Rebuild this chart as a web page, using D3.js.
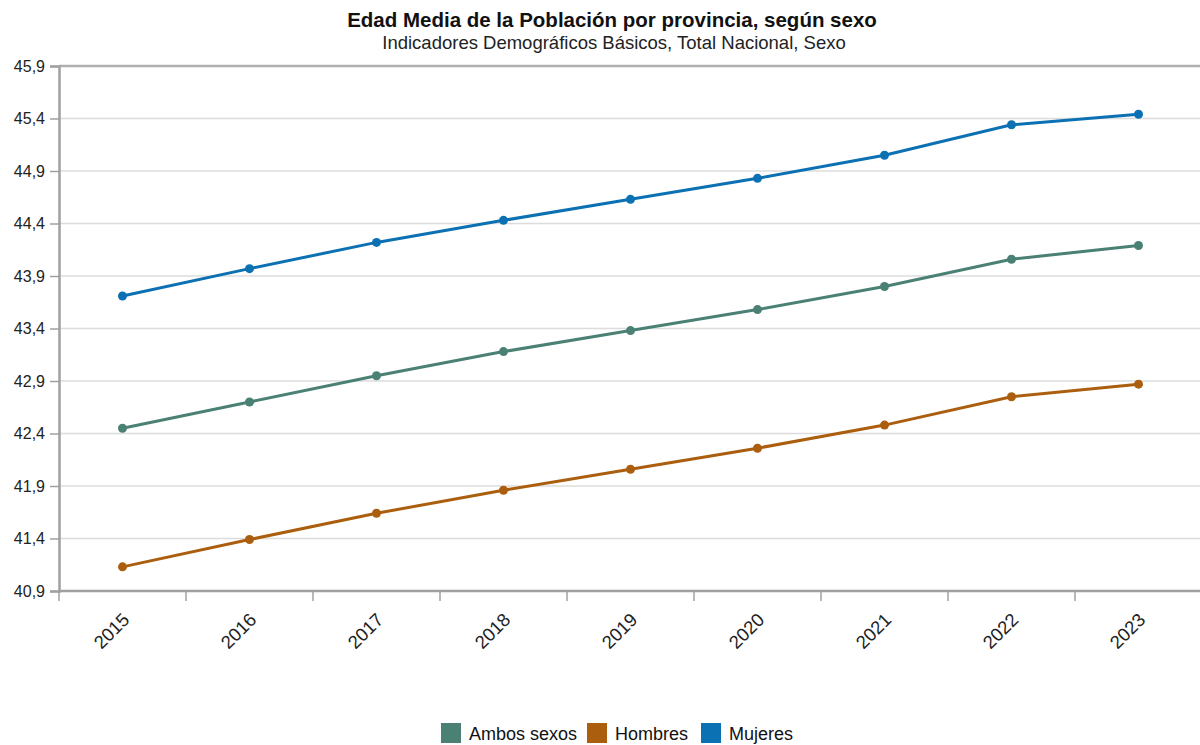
<!DOCTYPE html>
<html>
<head>
<meta charset="utf-8">
<script src="https://cdn.jsdelivr.net/npm/d3@7"></script>
<style>
  body { margin: 0; background: #fff; }
  svg { display: block; font-family: "Liberation Sans", Arial, sans-serif; }
</style>
</head>
<body>
<svg id="chart" width="1200" height="745"></svg>
<script>
// years on the x axis
var years = ["2015", "2016", "2017", "2018", "2019", "2020", "2021", "2022", "2023"];

// series values
var ambosSexos = [42.45, 42.70, 42.95, 43.18, 43.38, 43.58, 43.80, 44.06, 44.19];
var hombres = [41.13, 41.39, 41.64, 41.86, 42.06, 42.26, 42.48, 42.75, 42.87];
var mujeres = [43.71, 43.97, 44.22, 44.43, 44.63, 44.83, 45.05, 45.34, 45.44];

var seriesNames = ["Ambos sexos", "Hombres", "Mujeres"];
var seriesColors = ["#4a8174", "#ab5f0e", "#0b71b2"];

// y ticks as labelled
var yTicks = [40.9, 41.4, 41.9, 42.4, 42.9, 43.4, 43.9, 44.4, 44.9, 45.4, 45.9];

var series = [
    { name: seriesNames[0], values: ambosSexos, color: seriesColors[0] },
    { name: seriesNames[1], values: hombres, color: seriesColors[1] },
    { name: seriesNames[2], values: mujeres, color: seriesColors[2] }
];

var svg = d3.select("#chart"),
    plotLeft = 59,
    plotRight = 1202,
    plotTop = 66,
    plotBottom = 591;

var x = d3.scaleBand().domain(years).range([plotLeft, plotRight]);
var y = d3.scaleLinear().domain([40.9, 45.9]).range([plotBottom, plotTop]);

var fmt = function(d) { return d3.format(".1f")(d).replace(".", ","); };

// Title and subtitle
svg.append("text")
    .attr("x", 612).attr("y", 27)
    .attr("text-anchor", "middle")
    .style("font-size", "20.5px")
    .style("font-weight", "bold")
    .style("fill", "#111")
    .text("Edad Media de la Población por provincia, según sexo");

svg.append("text")
    .attr("x", 614).attr("y", 49)
    .attr("text-anchor", "middle")
    .style("font-size", "18.5px")
    .style("fill", "#222")
    .text("Indicadores Demográficos Básicos, Total Nacional, Sexo");

// Horizontal grid
svg.append("g")
    .selectAll("line")
    .data(yTicks)
    .enter()
    .append("line")
    .attr("x1", plotLeft).attr("x2", 1200)
    .attr("y1", function(d) { return y(d); })
    .attr("y2", function(d) { return y(d); })
    .style("stroke", function(d) { return d === 45.9 ? "#b0b0b0" : "#dcdcdc"; })
    .style("stroke-width", function(d) { return d === 45.9 ? 2.5 : 1.5; });

// Y axis
var yAxis = svg.append("g")
    .attr("transform", "translate(" + plotLeft + ",0)")
    .call(d3.axisLeft(y).tickValues(yTicks).tickFormat(fmt).tickSizeOuter(0).tickSize(9).tickPadding(5));
yAxis.select(".domain").style("stroke", "#a0a0a0").style("stroke-width", 2.5);
yAxis.selectAll(".tick line").style("stroke", "#a0a0a0").style("stroke-width", 1.5);
yAxis.selectAll(".tick text").style("font-size", "16px").style("fill", "#222")
    .style("font-family", "Liberation Sans, Arial, sans-serif");

// X axis with ticks at band boundaries
var xAxisG = svg.append("g");
xAxisG.append("line")
    .attr("x1", plotLeft).attr("x2", 1200)
    .attr("y1", plotBottom).attr("y2", plotBottom)
    .style("stroke", "#a0a0a0").style("stroke-width", 2.5);
xAxisG.selectAll(".xtick")
    .data(years)
    .enter()
    .append("line")
    .attr("class", "xtick")
    .attr("x1", function(d) { return x(d); })
    .attr("x2", function(d) { return x(d); })
    .attr("y1", plotBottom).attr("y2", plotBottom + 10)
    .style("stroke", "#a0a0a0").style("stroke-width", 1.5);
xAxisG.selectAll(".xlabel")
    .data(years)
    .enter()
    .append("text")
    .attr("class", "xlabel")
    .attr("text-anchor", "end")
    .attr("transform", function(d) {
        return "translate(" + (x(d) + x.bandwidth() / 2 + 8) + "," + (plotBottom + 30) + ") rotate(-45)";
    })
    .style("font-size", "18.5px")
    .style("fill", "#222")
    .text(function(d) { return d; });

// Lines and points
var line = d3.line()
    .x(function(d, i) { return x(years[i]) + x.bandwidth() / 2; })
    .y(function(d) { return y(d); });

var groups = svg.selectAll(".series")
    .data(series)
    .enter()
    .append("g")
    .attr("class", "series");

groups.append("path")
    .attr("d", function(d) { return line(d.values); })
    .style("fill", "none")
    .style("stroke", function(d) { return d.color; })
    .style("stroke-width", 3);

groups.each(function(s) {
    d3.select(this).selectAll("circle")
        .data(s.values)
        .enter()
        .append("circle")
        .attr("cx", function(d, i) { return x(years[i]) + x.bandwidth() / 2; })
        .attr("cy", function(d) { return y(d); })
        .attr("r", 4.5)
        .style("fill", s.color);
});

// Legend
var legendX = [441, 587, 701];
var legend = svg.selectAll(".legend")
    .data(series)
    .enter()
    .append("g")
    .attr("class", "legend")
    .attr("transform", function(d, i) { return "translate(" + legendX[i] + ",723)"; });

legend.append("rect")
    .attr("width", 20).attr("height", 20)
    .style("fill", function(d) { return d.color; });

legend.append("text")
    .attr("x", 28).attr("y", 17)
    .style("font-size", "18px")
    .style("fill", "#111")
    .text(function(d) { return d.name; });
</script>
</body>
</html>
